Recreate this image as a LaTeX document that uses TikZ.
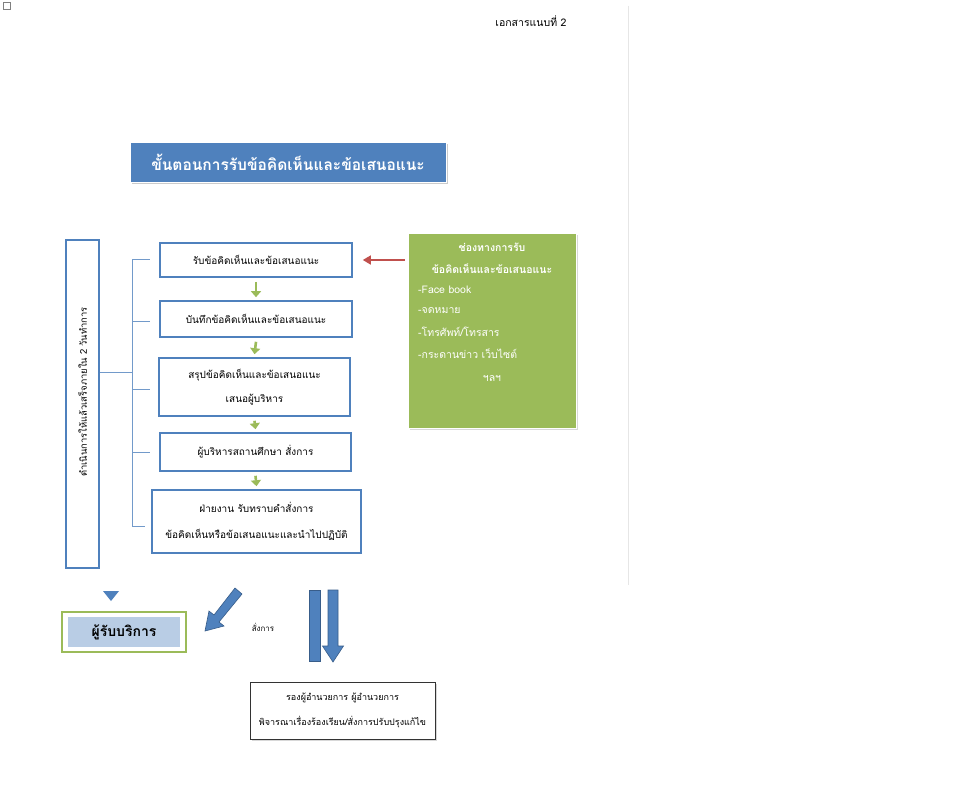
\documentclass[tikz,border=0pt]{standalone}
\usepackage{fontspec}
\setmainfont[Script=Thai]{Loma}
\usetikzlibrary{arrows.meta,shadows}
\definecolor{bluefill}{HTML}{4F81BD}
\definecolor{blueline}{HTML}{4F81BD}
\definecolor{bluedark}{HTML}{385D8A}
\definecolor{greenfill}{HTML}{9BBB59}
\definecolor{greenarrow}{HTML}{9BBB59}
\definecolor{redarrow}{HTML}{C0504D}
\definecolor{lightblue}{HTML}{B9CDE5}
\definecolor{pagegray}{HTML}{E6E6E6}
\tikzset{
  stepbox/.style={draw=blueline, line width=1.6pt, fill=white, align=center, font=\fontsize{10}{24}\selectfont, inner sep=0pt},
  greenstep/.style={draw=greenarrow, line width=2.6pt, -{Triangle[length=6pt,width=10pt]}},
  wire/.style={draw=blueline!80, line width=0.8pt},
  gtext/.style={text=white, font=\fontsize{10.5}{12}\selectfont, anchor=west, inner sep=0pt},
  blockarrow/.style={fill=bluefill, draw=bluedark, line width=0.6pt},
}
\begin{document}
\begin{tikzpicture}[x=1pt,y=-1pt]
\useasboundingbox (0,0) rectangle (960,784);
\fill[white] (0,0) rectangle (960,784);
% page frame hints
\draw[pagegray, line width=0.6pt] (628,6) -- (628,585);
\draw[gray, line width=0.5pt] (3,2) rectangle (10,9);
\node[font=\fontsize{10.5}{12}\selectfont, inner sep=0pt] (doc) at (531,21) {เอกสารแนบที่ 2};
% title
\node[draw=white, line width=1pt, fill=bluefill, text=white, minimum width=316pt, minimum height=40pt, inner sep=0pt,
      font=\fontsize{15.5}{18}\selectfont\bfseries, drop shadow={shadow xshift=1.5pt, shadow yshift=-1.5pt, fill=black!40}] (title) at (288,162.5) {ขั้นตอนการรับข้อคิดเห็นและข้อเสนอแนะ};
% left vertical box
\node[draw=blueline, line width=1.6pt, fill=white, minimum width=33pt, minimum height=328pt, inner sep=0pt] (left) at (82.5,404) {};
\node[rotate=90, font=\fontsize{9.4}{12}\selectfont, inner sep=0pt] (lefttext) at (82.5,392) {ดำเนินการให้แล้วเสร็จภายใน 2 วันทำการ};
% step boxes
\node[stepbox, minimum width=192pt, minimum height=34pt] (s1) at (256,260) {รับข้อคิดเห็นและข้อเสนอแนะ};
\node[stepbox, minimum width=192pt, minimum height=36pt] (s2) at (256,319) {บันทึกข้อคิดเห็นและข้อเสนอแนะ};
\node[stepbox, minimum width=191pt, minimum height=58pt] (s3) at (254.5,387) {สรุปข้อคิดเห็นและข้อเสนอแนะ\\เสนอผู้บริหาร};
\node[stepbox, minimum width=191pt, minimum height=38pt] (s4) at (255.5,452) {ผู้บริหารสถานศึกษา สั่งการ};
\node[stepbox, minimum width=209pt, minimum height=63pt, font=\fontsize{10}{26}\selectfont] (s5) at (256.5,521.5) {ฝ่ายงาน รับทราบคำสั่งการ\\ข้อคิดเห็นหรือข้อเสนอแนะและนำไปปฏิบัติ};
% green arrows
\draw[greenstep] ([yshift=-4pt]s1.south) -- ([yshift=3pt]s2.north);
\draw[greenstep] ([yshift=-4pt]s2.south) -- ([yshift=3pt]s3.north);
\draw[greenstep] ([yshift=-4pt]s3.south) -- ([yshift=3pt]s4.north);
\draw[greenstep] ([yshift=-4pt]s4.south) -- ([yshift=3pt]s5.north);
% bracket wires
\coordinate (bt) at (132,259);
\coordinate (bb) at (132,526);
\draw[wire] (left.east |- 0,372) -- (132,372);
\draw[wire] (bt) -- (bb);
\draw[wire] (bt) -- (150,259);
\draw[wire] (132,321) -- (150,321);
\draw[wire] (132,389) -- (150,389);
\draw[wire] (132,452) -- (150,452);
\draw[wire] (bb) -- (145,526);
% green channel box
\node[fill=greenfill, draw=white, line width=1pt, minimum width=168pt, minimum height=195pt, inner sep=0pt,
      drop shadow={shadow xshift=1.5pt, shadow yshift=-1.5pt, fill=black!30}] (ch) at (492,330.5) {};
\node[text=white, font=\fontsize{10.5}{12}\selectfont\bfseries, inner sep=0pt] (ch1) at (492,247) {ช่องทางการรับ};
\node[text=white, font=\fontsize{10.5}{12}\selectfont\bfseries, inner sep=0pt] (ch2) at (492,269) {ข้อคิดเห็นและข้อเสนอแนะ};
\node[gtext] (ch3) at (418,290) {-Face book};
\node[gtext] (ch4) at (418,311) {-จดหมาย};
\node[gtext] (ch5) at (418,332) {-โทรศัพท์/โทรสาร};
\node[gtext] (ch6) at (418,354) {-กระดานข่าว เว็บไซต์};
\node[text=white, font=\fontsize{10.5}{12}\selectfont, inner sep=0pt] (ch7) at (492,379) {ฯลฯ};
\draw[redarrow, line width=1.6pt, -{Triangle[length=8pt,width=9pt]}] ([xshift=-3pt]ch.west |- s1) -- ([xshift=10pt]s1.east);
% bottom part
\node[draw=greenfill, line width=1.6pt, fill=white, minimum width=124pt, minimum height=40pt, inner sep=0pt] (client) at (124,632) {};
\node[fill=lightblue, minimum width=112pt, minimum height=30pt, inner sep=0pt, font=\fontsize{14}{16}\selectfont\bfseries] (clienttext) at (124,632) {ผู้รับบริการ};
% small down arrow head above client
\coordinate (dh) at (111,601);
\fill[bluefill] (103,591) -- (119,591) -- (dh) -- cycle;
% diagonal block arrow
\coordinate (dtip) at (205,631);
\filldraw[blockarrow] (235,588) -- (242,594) -- (219,622) -- (224,626) -- (dtip) -- (209,611) -- (214,615) -- cycle;
\node[font=\fontsize{8}{10}\selectfont, inner sep=0pt] (order) at (263,627) {สั่งการ};
% vertical block arrows
\filldraw[blockarrow] (309.5,590) -- (320.5,590) -- (320.5,661) -- (309.5,661) -- cycle;
\coordinate (vtip) at (333,662);
\filldraw[blockarrow] (328,590) -- (338,590) -- (338,646) -- (343.5,646) -- (vtip) -- (322.5,646) -- (328,646) -- cycle;
% bottom box
\node[draw=black!80, line width=1pt, fill=white, minimum width=185pt, minimum height=57pt, inner sep=0pt, align=center,
      font=\fontsize{9}{25}\selectfont, drop shadow={shadow xshift=1.5pt, shadow yshift=-1.5pt, fill=black!30}] (boss) at (342.5,710.5) {รองผู้อำนวยการ ผู้อำนวยการ\\พิจารณาเรื่องร้องเรียน/สั่งการปรับปรุงแก้ไข};
\end{tikzpicture}
\end{document}
